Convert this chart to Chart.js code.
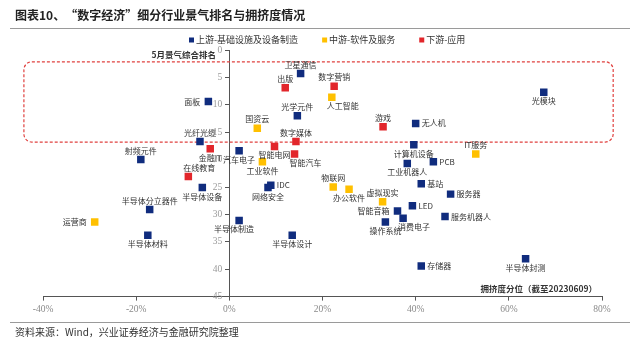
<!DOCTYPE html>
<html>
<head>
<meta charset="utf-8">
<script src="https://cdn.jsdelivr.net/npm/chart.js@4/dist/chart.umd.min.js"></script>
<style>
  body { margin: 0; background: #fff; }
  canvas { display: block; }
</style>
</head>
<body>
<canvas id="chart" width="640" height="343"></canvas>
<script>
// upstream - infrastructure & equipment (x: crowding percentile %, y: May ranking)
const upNames = ['卫星通信', '面板', '光学元件', '光模块', '无人机', '光纤光缆', '计算机设备', '射频元件', '汽车电子', 'PCB',
  '工业机器人', '半导体设备', '基站', 'IDC', '网络安全', '服务器', 'LED', '智能音箱', '半导体分立器件', '服务机器人',
  '消费电子', '半导体制造', '操作系统', '半导体材料', '半导体设计', '半导体封测', '存储器'];
const upCrowd = [15.3, -4.5, 14.6, 67.5, 40.0, -6.3, 39.6, -19.0, 2.1, 43.8,
  38.2, -5.8, 41.2, 8.9, 8.3, 47.5, 39.3, 36.1, -17.1, 46.3,
  37.3, 2.1, 33.5, -17.5, 13.5, 63.6, 41.2];
const upRank = [4.3, 9.4, 12.0, 7.7, 13.4, 16.7, 17.3, 20.0, 18.4, 20.4,
  20.7, 25.1, 24.4, 24.7, 25.1, 26.3, 28.4, 29.4, 29.1, 30.4,
  30.7, 31.1, 31.4, 33.8, 33.8, 38.1, 39.4];

// midstream - software & services
const midNames = ['人工智能', '国资云', 'IT服务', '工业软件', '物联网', '办公软件', '虚拟现实', '运营商'];
const midCrowd = [22.0, 6.0, 52.9, 7.1, 22.3, 25.7, 32.9, -28.9];
const midRank = [8.6, 14.3, 19.0, 20.4, 25.0, 25.4, 27.7, 31.4];

// downstream - applications
const downNames = ['出版', '数字营销', '游戏', '数字媒体', '金融IT', '智能电网', '智能汽车', '在线教育'];
const downCrowd = [12.0, 22.5, 33.0, 14.3, -4.1, 9.7, 14.0, -8.8];
const downRank = [6.9, 6.6, 14.0, 16.7, 18.0, 17.6, 19.0, 23.1];

// where each label sits relative to its square (t/b/l/r, tr/br/bl = shifted)
const upLabelPos = ['t', 'l', 't', 'b', 'r', 't', 'b', 't', 'b', 'r',
  'b', 'b', 'r', 'r', 'b', 'r', 'r', 'l', 't', 'r',
  'br', 'bl', 'b', 'b', 'b', 'b', 'r'];
const midLabelPos = ['br', 't', 't', 'b', 't', 'b', 't', 'l'];
const downLabelPos = ['t', 't', 't', 't', 'b', 'b', 'br', 'tr'];

const xTicks = [-40, -20, 0, 20, 40, 60, 80];
const seriesNames = ['上游-基础设施及设备制造', '中游-软件及服务', '下游-应用'];
const seriesColors = ['#102C7E', '#FFC000', '#E2262B'];

// highlighted region (top ranks), in axis units
const boxRange = { x0: -44.1, x1: 82.4, y0: 2.15, y1: 16.8 };

const toPoints = (xs, ys) => xs.map((x, i) => ({ x, y: ys[i] }));

const CJK = '"Noto Sans CJK SC", "Noto Sans", sans-serif';
const SERIF = '"Liberation Serif", serif';

// dashed rounded box behind the points
const boxPlugin = {
  id: 'topBox',
  beforeDatasetsDraw(chart) {
    const { ctx, scales: { x, y } } = chart;
    const l = x.getPixelForValue(boxRange.x0), r = x.getPixelForValue(boxRange.x1);
    const t = y.getPixelForValue(boxRange.y0), b = y.getPixelForValue(boxRange.y1);
    ctx.save();
    ctx.strokeStyle = '#E0413F';
    ctx.lineWidth = 1.2;
    ctx.setLineDash([3, 2]);
    ctx.beginPath();
    ctx.roundRect(l, t, r - l, b - t, 8);
    ctx.stroke();
    ctx.restore();
  }
};

// text labels next to each square
const labelPlugin = {
  id: 'pointLabels',
  afterDatasetsDraw(chart) {
    const ctx = chart.ctx;
    ctx.save();
    ctx.font = '8px ' + CJK;
    ctx.fillStyle = '#333';
    ctx.textBaseline = 'middle';
    chart.data.datasets.forEach((ds, i) => {
      chart.getDatasetMeta(i).data.forEach((pt, j) => {
        const pos = ds.labelPos[j];
        let x = pt.x, y = pt.y;
        ctx.textAlign = 'center';
        if (pos[0] === 't') y -= 9;
        if (pos[0] === 'b') y += 9;
        if (pos[1] === 'r') x += 11;
        if (pos[1] === 'l') x -= 5;
        if (pos === 'l') { ctx.textAlign = 'right'; x -= 8; }
        if (pos === 'r') { ctx.textAlign = 'left'; x += 6; }
        ctx.fillText(ds.names[j], x, y);
      });
    });
    ctx.restore();
  }
};

// title, rules, legend, y tick labels, axis titles and source note
const framePlugin = {
  id: 'frame',
  afterDraw(chart) {
    const ctx = chart.ctx;
    const xs = chart.scales.x, ys = chart.scales.y;
    ctx.save();
    ctx.textBaseline = 'middle';

    // y tick labels sit left of the crossing axis
    ctx.font = '9.5px ' + SERIF;
    ctx.fillStyle = '#9a9a9a';
    ctx.textAlign = 'right';
    const axisX = xs.getPixelForValue(0);
    ys.ticks.forEach(t => ctx.fillText(String(t.value), axisX - 7, ys.getPixelForValue(t.value)));

    ctx.textAlign = 'left';
    ctx.fillStyle = '#222';
    ctx.font = 'bold 12px ' + CJK;
    ctx.fillText('图表10、“数字经济”细分行业景气排名与拥挤度情况', 15, 15);

    ctx.strokeStyle = '#9a9a9a';
    ctx.lineWidth = 1;
    ctx.beginPath();
    ctx.moveTo(10, 28.5); ctx.lineTo(630, 28.5);
    ctx.moveTo(10, 322.5); ctx.lineTo(630, 322.5);
    ctx.stroke();

    // legend
    ctx.font = '9px ' + CJK;
    let lx = 189;
    seriesNames.forEach((name, i) => {
      ctx.fillStyle = seriesColors[i];
      ctx.fillRect(lx, 37.5, 5, 5);
      ctx.fillStyle = '#333';
      ctx.fillText(name, lx + 7, 40);
      lx += 7 + ctx.measureText(name).width + 24;
    });

    ctx.font = 'bold 8.5px ' + CJK;
    ctx.fillStyle = '#333';
    ctx.textAlign = 'right';
    ctx.fillText('5月景气综合排名', 216, 55);
    ctx.fillText('拥挤度分位（截至20230609）', 597, 289);

    ctx.textAlign = 'left';
    ctx.font = '10px ' + CJK;
    ctx.fillText('资料来源：Wind，兴业证券经济与金融研究院整理', 15, 332);
    ctx.restore();
  }
};

new Chart(document.getElementById('chart').getContext('2d'), {
  type: 'scatter',
  data: {
    datasets: [
      { label: seriesNames[0], names: upNames, labelPos: upLabelPos, data: toPoints(upCrowd, upRank), backgroundColor: seriesColors[0] },
      { label: seriesNames[1], names: midNames, labelPos: midLabelPos, data: toPoints(midCrowd, midRank), backgroundColor: seriesColors[1] },
      { label: seriesNames[2], names: downNames, labelPos: downLabelPos, data: toPoints(downCrowd, downRank), backgroundColor: seriesColors[2] }
    ]
  },
  options: {
    responsive: false,
    animation: false,
    devicePixelRatio: 1,
    layout: { padding: { top: 50, left: 43, right: 38, bottom: 25 } },
    elements: { point: { pointStyle: 'rect', radius: 5.3, borderWidth: 0, hoverRadius: 5.3 } },
    plugins: { legend: { display: false }, tooltip: { enabled: false } },
    scales: {
      x: {
        type: 'linear',
        min: -40, max: 80,
        afterBuildTicks: (s) => { s.ticks = xTicks.map(v => ({ value: v })); },
        ticks: { color: '#8a8a8a', font: { family: SERIF, size: 9.5 }, padding: 3, callback: v => v + '%' },
        grid: { drawOnChartArea: false, tickLength: 4, color: '#555' },
        border: { color: '#555' }
      },
      y: {
        type: 'linear',
        position: { x: 0 },
        reverse: true,
        min: 0, max: 45,
        ticks: { stepSize: 5, display: false },
        grid: { drawOnChartArea: false, tickLength: 4, color: '#555' },
        border: { color: '#555' }
      }
    }
  },
  plugins: [boxPlugin, labelPlugin, framePlugin]
});
</script>
</body>
</html>
